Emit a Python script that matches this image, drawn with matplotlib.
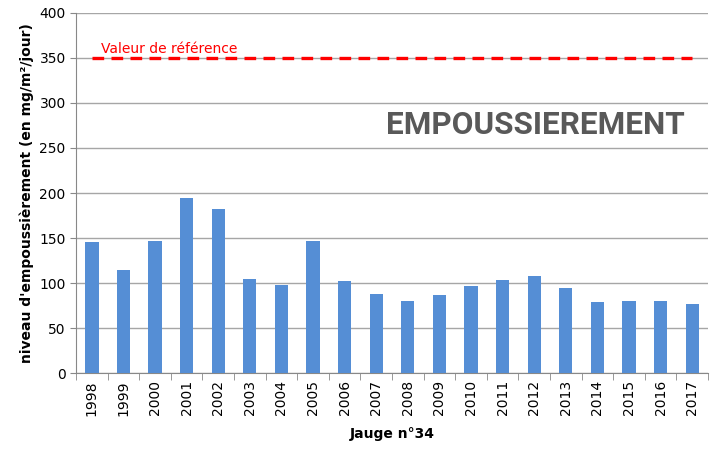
import matplotlib.pyplot as plt
import numpy as np

# Données (mg/m²/jour)
annees = ['1998', '1999', '2000', '2001', '2002', '2003', '2004', '2005', '2006', '2007',
          '2008', '2009', '2010', '2011', '2012', '2013', '2014', '2015', '2016', '2017']
valeurs = [146, 115, 147, 194, 182, 104, 98, 147, 102, 88,
           80, 87, 97, 103, 108, 94, 79, 80, 80, 77]
reference = [350] * len(annees)

fig = plt.figure(figsize=(7.18, 4.59), dpi=100)
ax = fig.add_axes([0.106, 0.187, 0.88, 0.785])

x = np.arange(len(annees))
ax.bar(x, valeurs, width=0.42, color='#558ED5', zorder=3)
ax.plot(x, reference, color='red', linestyle=(0, (3.5, 2.2)), linewidth=2.4, zorder=4)
ax.text(0.3, 352, 'Valeur de référence', color='red', fontsize=10, va='bottom', ha='left', zorder=5)

ax.set_ylim(0, 400)
ax.set_yticks(range(0, 401, 50))
ax.set_xlim(-0.5, len(annees) - 0.5)
ax.set_xticks(x)
ax.set_xticklabels(annees, rotation=90, fontsize=10)
ax.set_xticks(np.arange(-0.5, len(annees), 1), minor=True)
ax.tick_params(axis='x', which='major', length=0, pad=5)
ax.tick_params(axis='x', which='minor', length=5, color='#888888')
ax.tick_params(axis='y', length=4, color='#888888', labelsize=10)
ax.grid(axis='y', color='#A6A6A6', linewidth=1, zorder=0)

for s in ['top', 'right']:
    ax.spines[s].set_visible(False)
for s in ['left', 'bottom']:
    ax.spines[s].set_color('#888888')

ax.set_ylabel("niveau d'empoussièrement (en mg/m²/jour)", fontsize=10, fontweight='bold')
ax.set_xlabel('Jauge n°34', fontsize=10, fontweight='bold', labelpad=8)

# Bandeau titre
ax.add_patch(plt.Rectangle((9.6, 253), 10.1, 44, facecolor='white', edgecolor='none', zorder=5))
ax.text(14.04, 276, 'EMPOUSSIEREMENT', fontsize=22.7, fontweight='bold', color='#595959',
        family=['Roboto', 'DejaVu Sans'], ha='center', va='center', zorder=6)

fig.savefig('out.png', dpi=100)
